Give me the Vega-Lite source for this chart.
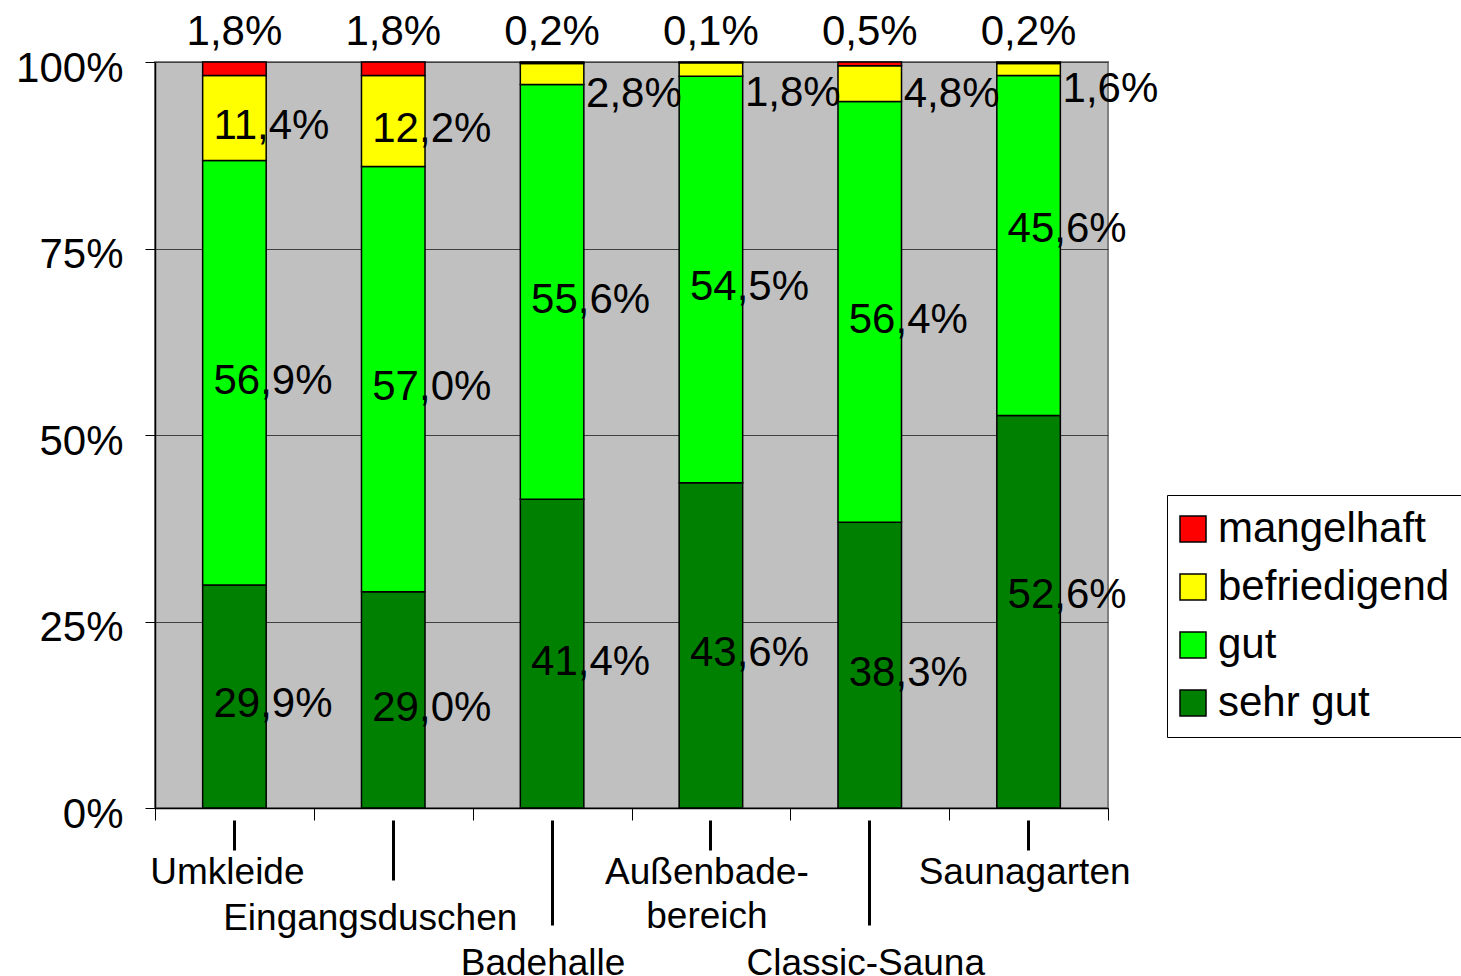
{
  "$schema": "https://vega.github.io/schema/vega-lite/v6.json",
  "width": 953,
  "height": 746,
  "autosize": {"type": "none"},
  "padding": {"left": 155, "top": 62, "right": 353, "bottom": 168},
  "background": "white",
  "config": {
    "view": {"fill": "#c0c0c0", "stroke": "#808080", "strokeWidth": 2},
    "font": "Liberation Sans"
  },
  "data": {
    "values": [
      {"category": "Umkleide", "rating": "sehr gut", "value": 29.9},
      {"category": "Umkleide", "rating": "gut", "value": 56.9},
      {"category": "Umkleide", "rating": "befriedigend", "value": 11.4},
      {"category": "Umkleide", "rating": "mangelhaft", "value": 1.8},
      {"category": "Eingangsduschen", "rating": "sehr gut", "value": 29.0},
      {"category": "Eingangsduschen", "rating": "gut", "value": 57.0},
      {"category": "Eingangsduschen", "rating": "befriedigend", "value": 12.2},
      {"category": "Eingangsduschen", "rating": "mangelhaft", "value": 1.8},
      {"category": "Badehalle", "rating": "sehr gut", "value": 41.4},
      {"category": "Badehalle", "rating": "gut", "value": 55.6},
      {"category": "Badehalle", "rating": "befriedigend", "value": 2.8},
      {"category": "Badehalle", "rating": "mangelhaft", "value": 0.2},
      {"category": "Außenbade-bereich", "rating": "sehr gut", "value": 43.6},
      {"category": "Außenbade-bereich", "rating": "gut", "value": 54.5},
      {"category": "Außenbade-bereich", "rating": "befriedigend", "value": 1.8},
      {"category": "Außenbade-bereich", "rating": "mangelhaft", "value": 0.1},
      {"category": "Classic-Sauna", "rating": "sehr gut", "value": 38.3},
      {"category": "Classic-Sauna", "rating": "gut", "value": 56.4},
      {"category": "Classic-Sauna", "rating": "befriedigend", "value": 4.8},
      {"category": "Classic-Sauna", "rating": "mangelhaft", "value": 0.5},
      {"category": "Saunagarten", "rating": "sehr gut", "value": 52.6},
      {"category": "Saunagarten", "rating": "gut", "value": 45.6},
      {"category": "Saunagarten", "rating": "befriedigend", "value": 1.6},
      {"category": "Saunagarten", "rating": "mangelhaft", "value": 0.2}
    ]
  },
  "transform": [
    {"calculate": "indexof(['sehr gut','gut','befriedigend','mangelhaft'], datum.rating)", "as": "ord"},
    {"stack": "value", "groupby": ["category"], "sort": [{"field": "ord", "order": "ascending"}], "as": ["v0", "v1"]},
    {"calculate": "(datum.v0 + datum.v1) / 2", "as": "mid"},
    {"calculate": "replace(format(datum.value, '.1f'), '.', ',') + '%'", "as": "label"}
  ],
  "layer": [
    {
      "mark": {"type": "bar", "stroke": "black", "strokeWidth": 1.5, "width": {"band": 0.4}},
      "encoding": {
        "x": {
          "field": "category", "type": "nominal",
          "sort": ["Umkleide", "Eingangsduschen", "Badehalle", "Außenbade-bereich", "Classic-Sauna", "Saunagarten"],
          "scale": {"paddingInner": 0, "paddingOuter": 0},
          "axis": {
            "orient": "bottom", "tickBand": "extent", "labels": false, "tickSize": 12,
            "tickColor": "black", "tickWidth": 1, "domainColor": "black", "domainWidth": 1.5,
            "title": null, "grid": false
          }
        },
        "y": {
          "field": "v0", "type": "quantitative",
          "scale": {"domain": [0, 100]},
          "axis": {
            "values": [0, 25, 50, 75, 100], "labelExpr": "datum.value + '%'", "title": null,
            "grid": true, "gridColor": "#404040", "gridWidth": 1,
            "domainColor": "black", "domainWidth": 1.5, "tickColor": "black", "tickSize": 10,
            "labelFontSize": 42, "labelColor": "black", "labelPadding": 22, "labelOffset": 6,
            "labelBaseline": "middle", "labelFont": "Liberation Sans"
          }
        },
        "y2": {"field": "v1"},
        "color": {
          "field": "rating", "type": "nominal",
          "scale": {"domain": ["mangelhaft", "befriedigend", "gut", "sehr gut"], "range": ["#ff0000", "#ffff00", "#00ff00", "#008000"]},
          "legend": {
            "title": null, "orient": "none", "legendX": 1012, "legendY": 433,
            "fillColor": "white", "strokeColor": "black", "padding": 13,
            "symbolType": "square", "symbolSize": 676, "symbolStrokeColor": "black", "symbolStrokeWidth": 1.5,
            "symbolOffset": -8,
            "labelFontSize": 42, "labelFont": "Liberation Sans", "labelColor": "black",
            "rowPadding": 16, "labelOffset": 4, "labelLimit": 400
          }
        }
      }
    },
    {
      "transform": [{"filter": "datum.rating == 'sehr gut' || datum.rating == 'gut' || (datum.rating == 'befriedigend' && datum.value >= 10)"}],
      "mark": {"type": "text", "align": "left", "baseline": "middle", "dx": -21,
               "dy": {"expr": "datum.category == 'Saunagarten' ? -17 : 8"},
               "fontSize": 42, "color": "black", "font": "Liberation Sans"},
      "encoding": {
        "x": {
          "field": "category", "type": "nominal",
          "sort": ["Umkleide", "Eingangsduschen", "Badehalle", "Außenbade-bereich", "Classic-Sauna", "Saunagarten"],
          "axis": {
            "orient": "bottom", "offset": 12, "domain": false, "grid": false, "ticks": true,
            "tickBand": "center", "tickColor": "black", "tickWidth": 3,
            "tickSize": {"expr": "datum.value == 'Eingangsduschen' ? 60 : ((datum.value == 'Badehalle' || datum.value == 'Classic-Sauna') ? 105 : 30)"},
            "labelPadding": {"expr": "(datum.value == 'Eingangsduschen' || datum.value == 'Badehalle' || datum.value == 'Classic-Sauna') ? 49 : 33"},
            "labelOffset": {"expr": "datum.value == 'Eingangsduschen' ? -23 : (datum.value == 'Badehalle' ? -9 : (datum.value == 'Umkleide' ? -7 : -4))"},
            "labelBaseline": "alphabetic", "labelFontSize": 37, "labelColor": "black", "labelFont": "Liberation Sans",
            "labelExpr": "datum.value == 'Außenbade-bereich' ? ['Außenbade-', 'bereich'] : datum.value",
            "labelLineHeight": 44, "labelAngle": 0, "title": null, "labelOverlap": false, "labelBound": false, "labelLimit": 400
          }
        },
        "y": {"field": "mid", "type": "quantitative"},
        "text": {"field": "label"}
      }
    },
    {
      "transform": [{"filter": "datum.rating == 'befriedigend' && datum.value < 10"}],
      "mark": {"type": "text", "align": "left", "baseline": "middle", "dx": 34,
               "dy": {"expr": "datum.category == 'Classic-Sauna' ? 10 : (datum.category == 'Außenbade-bereich' ? 24 : 20)"},
               "fontSize": 42, "color": "black", "font": "Liberation Sans"},
      "encoding": {
        "x": {
          "field": "category", "type": "nominal",
          "sort": ["Umkleide", "Eingangsduschen", "Badehalle", "Außenbade-bereich", "Classic-Sauna", "Saunagarten"],
          "axis": null
        },
        "y": {"field": "mid", "type": "quantitative"},
        "text": {"field": "label"}
      }
    },
    {
      "transform": [{"filter": "datum.rating == 'mangelhaft'"}],
      "mark": {"type": "text", "align": "center", "baseline": "alphabetic", "dy": -17, "fontSize": 42, "color": "black", "font": "Liberation Sans"},
      "encoding": {
        "x": {
          "field": "category", "type": "nominal",
          "sort": ["Umkleide", "Eingangsduschen", "Badehalle", "Außenbade-bereich", "Classic-Sauna", "Saunagarten"],
          "axis": null
        },
        "y": {"field": "v1", "type": "quantitative"},
        "text": {"field": "label"}
      }
    }
  ],
  "resolve": {"axis": {"x": "independent"}}
}
